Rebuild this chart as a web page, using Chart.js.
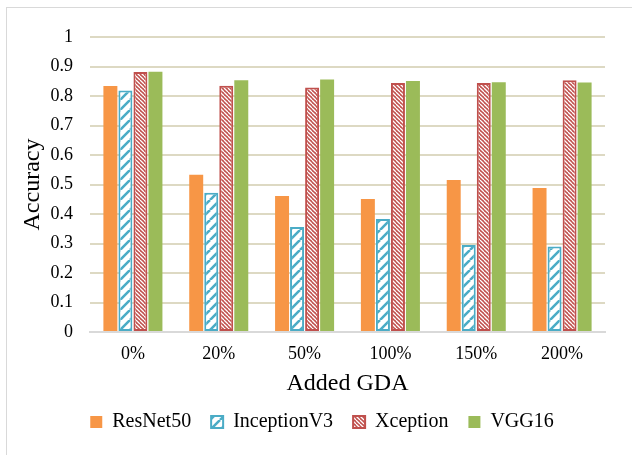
<!DOCTYPE html>
<html>
<head>
<meta charset="utf-8">
<script src="https://cdn.jsdelivr.net/npm/chart.js@4/dist/chart.umd.min.js"></script>
<style>
html,body{margin:0;padding:0;background:#fff;}
#wrap{width:632px;height:455px;position:relative;}
</style>
</head>
<body>
<div id="wrap"><canvas id="c" width="632" height="455"></canvas></div>
<script>
const categories = ['0%', '20%', '50%', '100%', '150%', '200%'];
const resnet50    = [0.834, 0.533, 0.461, 0.451, 0.515, 0.488];
const inceptionV3 = [0.819, 0.472, 0.356, 0.383, 0.295, 0.290];
const xception    = [0.881, 0.835, 0.829, 0.844, 0.844, 0.853];
const vgg16       = [0.882, 0.853, 0.856, 0.851, 0.847, 0.846];
const seriesNames = ['ResNet50', 'InceptionV3', 'Xception', 'VGG16'];
const yTicks      = [0, 0.1, 0.2, 0.3, 0.4, 0.5, 0.6, 0.7, 0.8, 0.9, 1];

const ORANGE = '#F79646', BLUE = '#4BACC6', RED = '#C0504D', GREEN = '#9BBB59';

function stripePattern(size, bg, fg, lw, forward) {
  const cv = document.createElement('canvas');
  cv.width = size; cv.height = size;
  const g = cv.getContext('2d');
  g.fillStyle = bg; g.fillRect(0, 0, size, size);
  g.strokeStyle = fg; g.lineWidth = lw;
  g.beginPath();
  for (let k = -1; k <= 1; k++) {
    if (forward) {
      g.moveTo(k * size, size); g.lineTo(k * size + size, 0);
    } else {
      g.moveTo(k * size, 0); g.lineTo(k * size + size, size);
    }
  }
  g.stroke();
  return document.getElementById('c').getContext('2d').createPattern(cv, 'repeat');
}
const blueStripe = stripePattern(10, '#ffffff', BLUE, 2.6, true);
const redStripe = stripePattern(4, RED, '#ffffff', 1.3, false);

const frame = {
  id: 'frame',
  beforeDraw(chart) {
    const ctx = chart.ctx;
    ctx.save();
    ctx.fillStyle = '#fff';
    ctx.fillRect(0, 0, chart.width, chart.height);
    ctx.strokeStyle = '#D9D9D9';
    ctx.lineWidth = 1;
    ctx.strokeRect(6.5, 7.5, 700, 700);
    ctx.restore();
  }
};

const FONT = "'Liberation Serif', 'Times New Roman', serif";

new Chart(document.getElementById('c'), {
  type: 'bar',
  data: {
    labels: categories,
    datasets: [
      { label: seriesNames[0], data: resnet50, backgroundColor: ORANGE, borderWidth: 0 },
      { label: seriesNames[1], data: inceptionV3, backgroundColor: blueStripe, borderColor: BLUE, borderWidth: 2, borderSkipped: false },
      { label: seriesNames[2], data: xception, backgroundColor: redStripe, borderColor: RED, borderWidth: 2, borderSkipped: false },
      { label: seriesNames[3], data: vgg16, backgroundColor: GREEN, borderWidth: 0 }
    ]
  },
  options: {
    responsive: false,
    animation: false,
    devicePixelRatio: 1,
    categoryPercentage: 0.70,
    barPercentage: 0.93,
    layout: { padding: { left: 39, right: 27, top: 37, bottom: 13 } },
    plugins: {
      legend: {
        position: 'bottom',
        labels: {
          font: { family: FONT, size: 20 },
          color: '#000',
          boxWidth: 12,
          boxHeight: 12,
          padding: 20
        }
      },
      tooltip: { enabled: false }
    },
    scales: {
      x: {
        afterFit(s) { s.height = 60; },
        grid: { display: false, drawTicks: false },
        border: { color: '#D9D9D9', width: 2 },
        ticks: { font: { family: FONT, size: 18 }, color: '#000', padding: 11 },
        title: { display: true, text: 'Added GDA', font: { family: FONT, size: 24 }, color: '#000', padding: { top: 0, bottom: -6 } }
      },
      y: {
        min: 0, max: 1,
        afterFit(s) { s.width = 51; },
        afterBuildTicks(s) { s.ticks = yTicks.map(v => ({ value: v })); },
        grid: { color: '#DDD9C3', lineWidth: 2, drawTicks: false },
        border: { display: false },
        ticks: { font: { family: FONT, size: 18 }, color: '#000', padding: 17, callback: v => String(+v.toFixed(1)) },
        title: { display: true, text: 'Accuracy', font: { family: FONT, size: 24 }, color: '#000', padding: { top: -21, bottom: 0 } }
      }
    }
  },
  plugins: [frame]
});
</script>
</body>
</html>
